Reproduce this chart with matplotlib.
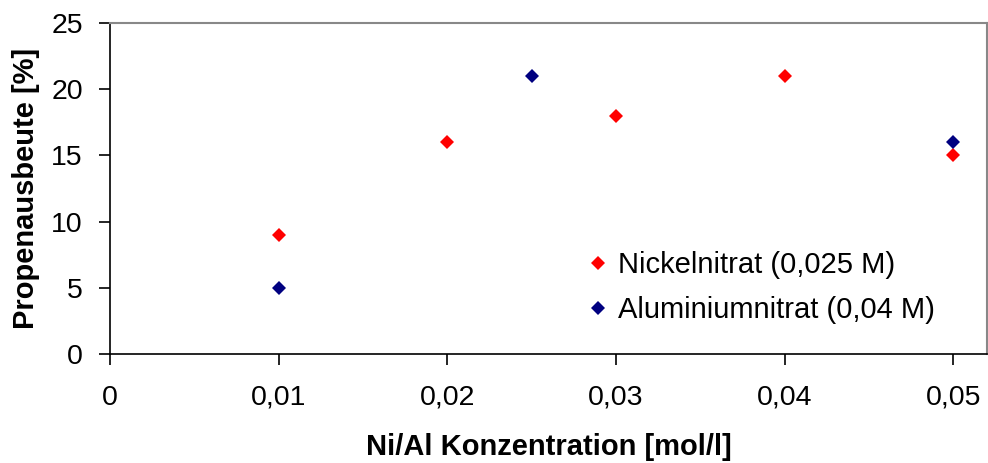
import matplotlib
matplotlib.use("Agg")
import matplotlib.pyplot as plt
from matplotlib.ticker import FuncFormatter

plt.rcParams['font.family'] = ['Liberation Sans', 'DejaVu Sans']

# Konzentrationen und Ausbeuten
nickel_x = [0.01, 0.02, 0.03, 0.04, 0.05]
nickel_y = [9, 16, 18, 21, 15]
alu_x = [0.01, 0.025, 0.05]
alu_y = [5, 21, 16]
x_ticks = [0, 0.01, 0.02, 0.03, 0.04, 0.05]
y_ticks = [0, 5, 10, 15, 20, 25]

FS_TICK = 20.5
FS_TEXT = 21

fig = plt.figure(figsize=(9.88, 4.63), dpi=100)
ax = fig.add_axes([0.1113, 0.2354, 0.8877, 0.7149])

ax.plot(nickel_x, nickel_y, linestyle='none', marker='D', ms=6.8,
        color='#ff0000', markeredgewidth=0, label='Nickelnitrat (0,025 M)')
ax.plot(alu_x, alu_y, linestyle='none', marker='D', ms=6.8,
        color='#000080', markeredgewidth=0, label='Aluminiumnitrat (0,04 M)')

ax.set_xlim(0, 0.052)
ax.set_ylim(0, 25)
ax.set_xticks(x_ticks)
ax.set_yticks(y_ticks)


def comma_fmt(v, pos):
    if abs(v) < 1e-12:
        return '0'
    return ('%g' % round(v, 4)).replace('.', ',')


ax.xaxis.set_major_formatter(FuncFormatter(comma_fmt))
ax.tick_params(axis='both', direction='out', length=8, width=1.2,
               labelsize=FS_TICK, color='black')
ax.tick_params(axis='x', pad=14)
ax.tick_params(axis='y', pad=11.5)

for side in ('left', 'bottom'):
    ax.spines[side].set_color('black')
    ax.spines[side].set_linewidth(1.2)
for side in ('top', 'right'):
    ax.spines[side].set_color('#888888')
    ax.spines[side].set_linewidth(1.5)

ax.set_xlabel('Ni/Al Konzentration [mol/l]', fontsize=FS_TEXT,
              fontweight='bold', labelpad=16)
ax.set_ylabel('Propenausbeute [%]', fontsize=FS_TEXT, fontweight='bold',
              labelpad=8)

leg = ax.legend(loc='center left', bbox_to_anchor=(0.5435, 0.201),
                frameon=False, fontsize=FS_TEXT, markerscale=1.0,
                handletextpad=0.27, handlelength=0.8, labelspacing=0.58,
                borderpad=0, borderaxespad=0)

fig.savefig('out.png', dpi=100)
